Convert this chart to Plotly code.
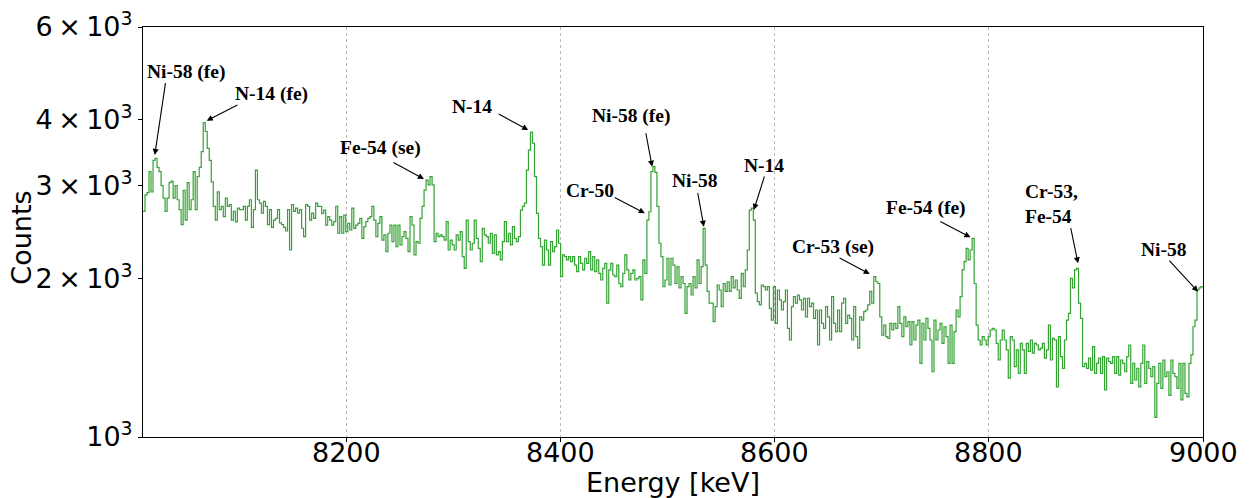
import numpy as np
import plotly.graph_objects as go

# Energy window of the histogram [keV]
energy_start = 8010.0
energy_stop = 9000.0

# Counts per bin (segments of ~165 keV each)
counts_8010_8175 = [
    2680, 2880, 2910, 3190, 2920, 3350, 3380, 3250, 3190, 3000,
    2840, 2680, 2840, 3040, 3060, 2840, 3000, 2820, 2700, 2530,
    2940, 2580, 3040, 2700, 2820, 3190, 2700, 3120, 3250, 3480,
    3950, 3800, 3530, 3350, 3050, 2740, 2580, 2920, 2700, 2740,
    2620, 2840, 2740, 2760, 2580, 2680, 2560, 2720, 2700,
    2700, 2740, 2580, 2740, 2820, 2500, 2700, 3210, 2820, 2780,
    2660, 2800, 2740, 2530, 2700, 2500, 2580, 2600, 2700, 2550,
    2530, 2500, 2460, 2700, 2264, 2760, 2680, 2720, 2660, 2700,
    2490, 2400, 2760, 2740, 2580, 2660, 2600, 2780, 2740,
]
counts_8175_8340 = [
    2740, 2657, 2696, 2525, 2619, 2581, 2525, 2562, 2740, 2436,
    2619, 2436, 2637, 2453, 2543, 2471, 2720, 2489, 2525, 2543,
    2600, 2383, 2507, 2562, 2600, 2619, 2740, 2581, 2400, 2543,
    2619, 2365, 2418, 2248, 2436, 2525, 2348, 2525, 2298, 2525,
    2315, 2400, 2453, 2383, 2248, 2619, 2525, 2216, 2348, 2332,
    2600, 2740, 2942, 3073, 3010, 3120, 3010, 2348, 2436, 2400,
    2418, 2400, 2365, 2562, 2264, 2365, 2315, 2264, 2418, 2365,
    2453, 2200, 2090, 2581, 2348, 2264, 2332, 2581, 2383, 2281,
    2152, 2489, 2418, 2400, 2332, 2436, 2232, 2418,
]
counts_8340_8505 = [
    2216, 2248, 2168, 2348, 2562, 2348, 2436, 2315, 2507, 2383,
    2348, 2400, 2696, 2740, 2780, 3211, 3504, 3790, 3610, 3120,
    2657, 2383, 2298, 2120, 2365, 2264, 2120, 2348, 2248, 2298,
    2471, 2332, 2015, 2216, 2200, 2168, 2200, 2152, 2200, 2120,
    2060, 2200, 2136, 2075, 2184, 2136, 2248, 2075, 2200, 2060,
    2168, 2045, 1986, 2090, 2136, 1795, 2075, 2136, 2030, 2015,
    2120, 1956, 1930, 2045, 2216, 2075, 1986, 2045, 2075, 1986,
    2000, 2015, 1820, 2168, 2045, 2581, 2676, 3190, 3260, 3180,
    2740, 2332, 2200, 1930, 1986, 2184, 1943, 2184,
]
counts_8505_8670 = [
    2120, 1956, 2105, 1918, 2015, 1956, 1716, 1930, 1956, 1860,
    2015, 1918, 2168, 1956, 2105, 2489, 2120, 1889, 1795, 1795,
    1655, 1768, 1943, 1901, 1768, 1956, 1889, 1971, 1889, 2015,
    1918, 1986, 1901, 1833, 2045, 1930, 2075, 2264, 2696, 2720,
    2581, 1875, 1807, 1781, 1943, 1930, 1901, 1930, 1755, 1667,
    1930, 1643, 1901, 1820, 1742, 1807, 1901, 1608, 1528, 1768,
    1847, 1795, 1860, 1820, 1742, 1833, 1691, 1833, 1768, 1795,
    1679, 1742, 1495, 1742, 1643, 1608, 1768, 1691, 1528, 1847,
    1643, 1585, 1742, 1585, 1795, 1833, 1643, 1703,
]
counts_8670_8835 = [
    1679, 1528, 1768, 1550, 1474, 1691, 1667, 1729, 1742, 1781,
    1889, 1795, 2015, 1971, 1956, 1691, 1561, 1631, 1550, 1539,
    1643, 1596, 1643, 1608, 1768, 1643, 1550, 1691, 1619, 1655,
    1495, 1655, 1528, 1631, 1667, 1380, 1643, 1528, 1679, 1608,
    1528, 1330, 1667, 1528, 1596, 1643, 1506, 1619, 1550, 1380,
    1631, 1380, 1585, 1742, 1691, 1847, 2075, 2152, 2281, 2168,
    2264, 2383, 1956, 1631, 1528, 1495, 1550, 1528, 1495, 1550,
    1596, 1608, 1596, 1506, 1400, 1528, 1596, 1528, 1463, 1293,
    1550, 1528, 1360, 1463, 1320, 1506, 1463, 1320,
]
counts_8835_9000 = [
    1506, 1453, 1528, 1443, 1506, 1495, 1463, 1474, 1506, 1411,
    1463, 1631, 1400, 1539, 1528, 1245, 1550, 1421, 1350, 1528,
    1667, 1716, 2000, 1918, 2075, 2090, 1795, 1679, 1360, 1380,
    1350, 1411, 1340, 1484, 1320, 1380, 1411, 1320, 1421, 1228,
    1411, 1390, 1380, 1421, 1320, 1421, 1311, 1400, 1380, 1330,
    1421, 1495, 1264, 1380, 1283, 1350, 1245, 1380, 1495, 1264,
    1390, 1350, 1302, 1360, 1090, 1264, 1380, 1237, 1400, 1302,
    1330, 1200, 1400, 1320, 1302, 1237, 1380, 1176, 1380, 1210,
    1192, 1380, 1432, 1619, 1667, 1901, 1918, 1930,
]

# Peak labels: text, arrow head (energy, counts), arrow tail, text position
label_texts = ["Ni-58 (fe)", "N-14 (fe)", "Fe-54 (se)", "N-14", "Ni-58 (fe)", "Cr-50",
               "Ni-58", "N-14", "Cr-53 (se)", "Fe-54 (fe)", "Cr-53,<br>Fe-54", "Ni-58"]
head_energy = [8021, 8069.5, 8272.4, 8369.8, 8485.5, 8478.7, 8533.8, 8580.5, 8688.8, 8782.8, 8883.3, 8995.4]
head_counts = [3430, 3985, 3088, 3824, 3258, 2659, 2507, 2697, 2039, 2393, 2136, 1887]
tail_energy = [8031.2, 8099.6, 8242.5, 8340.8, 8479.4, 8449.1, 8527.9, 8590.8, 8659.2, 8753.2, 8876.2, 8967.3]
tail_counts = [4725, 4280, 3331, 4115, 3796, 2858, 2922, 3143, 2193, 2573, 2507, 2175]
text_energy = [8050.6, 8130.4, 8232.2, 8317.2, 8466.6, 8427.1, 8525.1, 8590.3, 8654.1, 8741.7, 8831.9, 8963.3]
text_counts = [4928, 4477, 3536, 4230, 4058, 2934, 3065, 3275, 2299, 2720, 2768, 2274]
text_anchor = ["center"] * 10 + ["left", "center"]

THIN = "\u2009"
y_tick_vals = [1000, 2000, 3000, 4000, 6000]
y_tick_text = ["10<sup>3</sup>",
               "2" + THIN + "×" + THIN + "10<sup>3</sup>",
               "3" + THIN + "×" + THIN + "10<sup>3</sup>",
               "4" + THIN + "×" + THIN + "10<sup>3</sup>",
               "6" + THIN + "×" + THIN + "10<sup>3</sup>"]
x_tick_vals = [8200, 8400, 8600, 8800, 9000]
x_tick_text = ["8200", "8400", "8600", "8800", "9000"]
x_title = "Energy [keV]"
y_title = "Counts"

counts = np.array(counts_8010_8175 + counts_8175_8340 + counts_8340_8505
                  + counts_8505_8670 + counts_8670_8835 + counts_8835_9000, dtype=float)
edges = np.linspace(energy_start, energy_stop, len(counts) + 1)
x_step = np.append(edges[:-1], edges[-1])
y_step = np.append(counts, counts[-1])

fig = go.Figure()
fig.add_trace(go.Scatter(
    x=x_step, y=y_step, mode="lines", line_shape="hv",
    line=dict(color="rgb(52,163,52)", width=1.2),
    showlegend=False, hoverinfo="skip",
))

axis_font = dict(family="DejaVu Sans", size=27, color="black")

annotations = []
for i, t in enumerate(label_texts):
    annotations.append(dict(
        x=head_energy[i], y=np.log10(head_counts[i]), xref="x", yref="y",
        ax=tail_energy[i], ay=np.log10(tail_counts[i]), axref="x", ayref="y",
        text="", showarrow=True, arrowhead=2, arrowsize=1.1, arrowwidth=1.1,
        arrowcolor="black", standoff=0, startstandoff=0,
    ))
    annotations.append(dict(
        x=text_energy[i], y=np.log10(text_counts[i]), xref="x", yref="y",
        text="<b>" + t + "</b>", showarrow=False, xanchor=text_anchor[i],
        yanchor="middle", align="left",
        font=dict(family="Liberation Serif", size=19.5, color="black"),
    ))

# x tick labels placed just under the axis, as in the reference
for v, s in zip(x_tick_vals, x_tick_text):
    annotations.append(dict(
        x=v, y=-0.038, xref="x", yref="paper", text=s, showarrow=False,
        xanchor="center", yanchor="middle", font=axis_font,
    ))

# axis titles as free text so that they sit exactly where the reference has them
annotations.append(dict(
    x=0.5, y=-0.112, xref="paper", yref="paper", text=x_title, showarrow=False,
    xanchor="center", yanchor="middle", font=axis_font,
))
annotations.append(dict(
    x=-0.1142, y=0.486, xref="paper", yref="paper", text=y_title, showarrow=False,
    xanchor="center", yanchor="middle", textangle=-90, font=axis_font,
))

fig.update_layout(
    width=1241, height=490,
    margin=dict(l=135, r=46, t=19, b=61, autoexpand=False),
    paper_bgcolor="white", plot_bgcolor="white",
    annotations=annotations,
    xaxis=dict(
        range=[energy_start, energy_stop], tickvals=x_tick_vals, automargin=False,
        showticklabels=False, ticks="outside", ticklen=4, tickcolor="black",
        showgrid=True, gridcolor="#b8b8b8", griddash="dot", gridwidth=1,
        showline=True, linecolor="black", linewidth=1, mirror=True, zeroline=False,
    ),
    yaxis=dict(
        type="log", range=[3, np.log10(6000)], automargin=False,
        tickvals=y_tick_vals, ticktext=y_tick_text, ticklabeloverflow="allow",
        tickfont=axis_font, ticks="outside", ticklen=4, tickcolor="black",
        showgrid=False, showline=True, linecolor="black", linewidth=1, mirror=True,
        zeroline=False,
    ),
)

fig.write_html("out.html")
